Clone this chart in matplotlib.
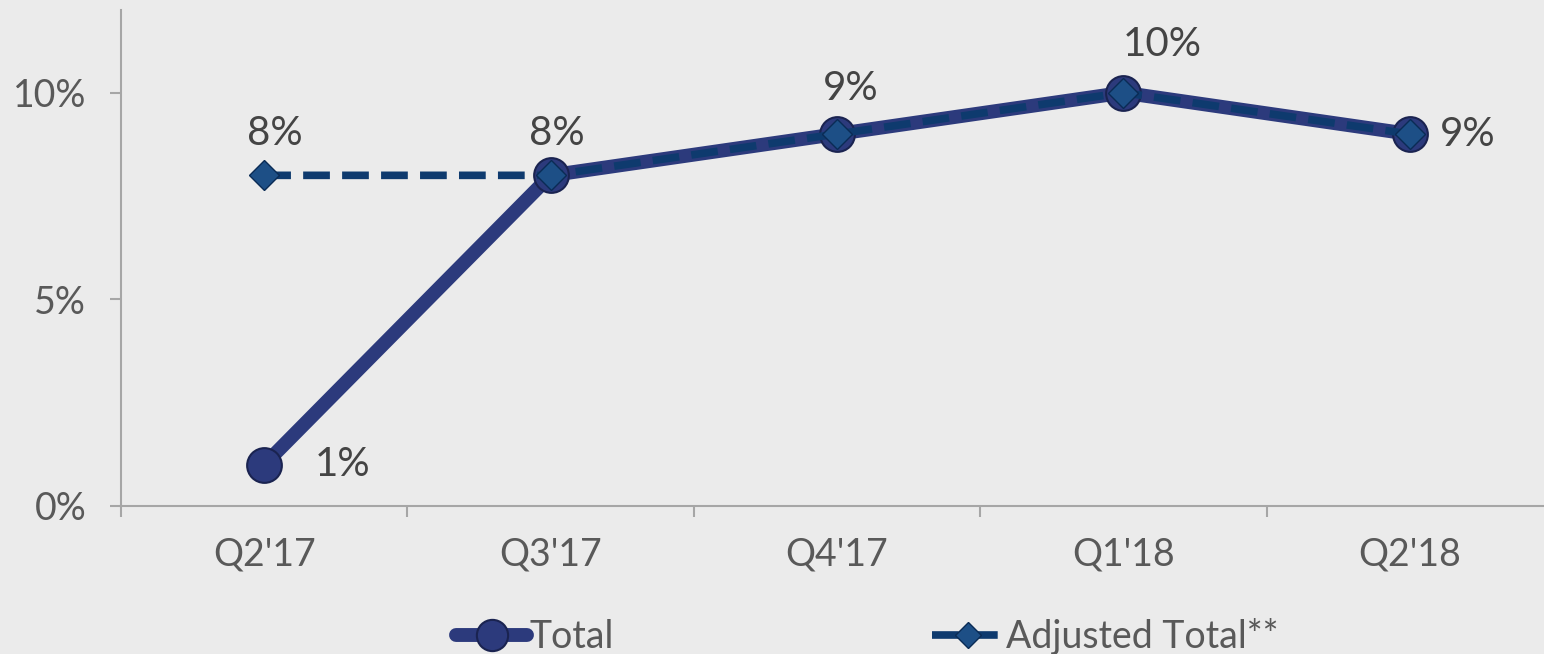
import matplotlib.pyplot as plt
import numpy as np

quarters = ["Q2'17", "Q3'17", "Q4'17", "Q1'18", "Q2'18"]
total = [1, 8, 9, 10, 9]
adjusted = [8, 8, 9, 10, 9]

# label offsets in pixels (dx, dy, ha) for each total point
total_lbl = [(51, 0, 'left'), (6, 42, 'center'), (14, 45, 'center'), (39, 48, 'center'), (30, 0, 'left')]
adj_lbl = (11, 42, 'center')

bg = '#EBEBEB'
navy = '#2C3A7C'
dnavy = '#0E3A6E'
txt = '#595959'
lbl = '#444444'

plt.rcParams['font.family'] = ['Lato', 'DejaVu Sans']

fig = plt.figure(figsize=(15.44, 6.54), dpi=100, facecolor=bg)
ax = fig.add_axes([121/1544, 148/654, 1432/1544, 496/654], facecolor=bg)

x = np.arange(len(quarters))
ax.plot(x, total, color=navy, lw=10, solid_capstyle='round', marker='o', ms=25,
        mfc=navy, mec='#1A2350', mew=1.5, label='Total', zorder=3)
ax.plot(x, adjusted, color=dnavy, lw=5.5, dashes=(3.5, 1.6), marker='D', ms=15,
        mfc='#1D4F86', mec='#0A2B55', mew=1, label='Adjusted Total**', zorder=4)

px = 0.72
for i, (dx, dy, ha) in enumerate(total_lbl):
    ax.annotate(f'{total[i]}%', (x[i], total[i]), xytext=(dx*px, dy*px),
                textcoords='offset points', ha=ha, va='center',
                fontsize=29, color=lbl, zorder=5)
dx, dy, ha = adj_lbl
ax.annotate(f'{adjusted[0]}%', (x[0], adjusted[0]), xytext=(dx*px, dy*px),
            textcoords='offset points', ha=ha, va='center',
            fontsize=29, color=lbl, zorder=5)

ax.set_xlim(-0.5, len(quarters) - 0.5)
ax.set_ylim(0, 12)
ax.set_yticks([0, 5, 10])
ax.set_yticklabels(['0%', '5%', '10%'])
ax.set_xticks(x)
ax.set_xticklabels(quarters)
ax.set_xticks(np.arange(-0.5, len(quarters)), minor=True)

for s in ['top', 'right']:
    ax.spines[s].set_visible(False)
for s in ['left', 'bottom']:
    ax.spines[s].set_color('#A6A6A6')
    ax.spines[s].set_linewidth(1.5)

ax.tick_params(axis='x', which='major', length=0, pad=22, labelsize=27, labelcolor=txt)
ax.tick_params(axis='x', which='minor', length=8, width=1.5, color='#A6A6A6', direction='out')
ax.tick_params(axis='y', length=8, width=1.5, color='#A6A6A6', pad=17, labelsize=27, labelcolor=txt)

fig.legend(loc='center', bbox_to_anchor=(0.5616, 0.026), ncol=2, frameon=False,
           fontsize=27, labelcolor=txt, handlelength=1.9, handletextpad=0.05,
           columnspacing=8.5, markerscale=0.9)

fig.savefig('out.png', dpi=100, facecolor=bg)
